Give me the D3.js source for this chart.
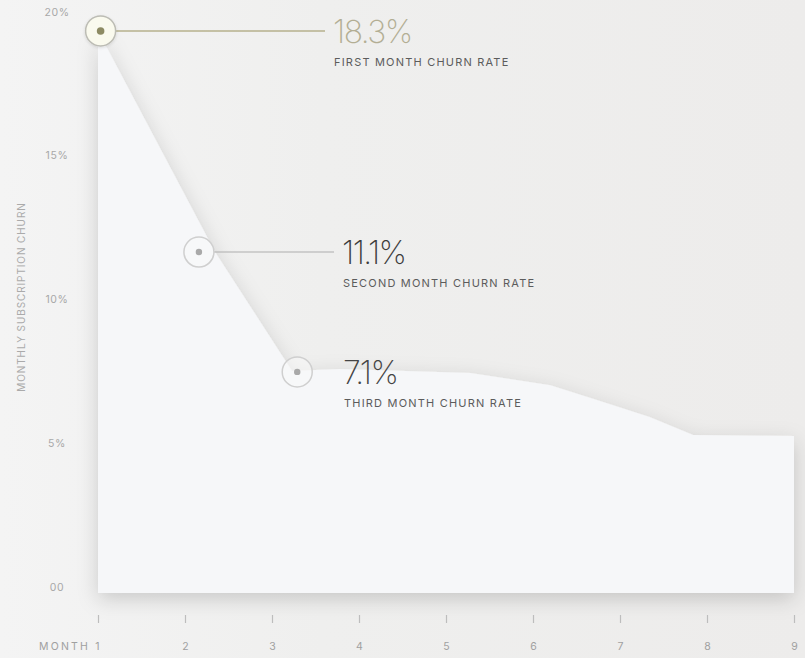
<!DOCTYPE html>
<html>
<head>
<meta charset="utf-8">
<script src="https://cdn.jsdelivr.net/npm/d3@7"></script>
<style>
  html, body { margin: 0; padding: 0; background: #f0f0ef; }
  svg { display: block; font-family: Inter, "Open Sans", sans-serif; }
</style>
</head>
<body>
<svg id="chart" width="805" height="658"></svg>
<script>
// ---- data ----
const monthTicks = [1, 2, 3, 4, 5, 6, 7, 8, 9];
const monthLabels = ["MONTH 1", "2", "3", "4", "5", "6", "7", "8", "9"];
const yTicks = [0, 5, 10, 15, 20];
const yTickLabels = ["00", "5%", "10%", "15%", "20%"];
// churn curve (month position, churn %)
const curveMonths = [1, 2.345, 3.23, 3.78, 5.28, 6.2, 6.77, 7.34, 7.84, 9];
const curveChurn  = [19.55, 11.86, 7.72, 7.79, 7.65, 7.23, 6.68, 6.12, 5.5, 5.46];
// annotated points
const markerMonths = [1.03, 2.16, 3.29];
const markerChurn  = [19.55, 11.86, 7.69];
const annValues = ["18.3%", "11.1%", "7.1%"];
const annLabels = ["FIRST MONTH CHURN RATE", "SECOND MONTH CHURN RATE", "THIRD MONTH CHURN RATE"];

const svg = d3.select("#chart");
const W = 805, H = 658;

const x = d3.scaleLinear().domain([1, 9]).range([98, 794]);
const y = d3.scaleLinear().domain([0, 20]).range([593, 18]);

const defs = svg.append("defs");
const bg = defs.append("linearGradient").attr("id", "bg").attr("x1", 0).attr("x2", 1).attr("y1", 0).attr("y2", 0);
bg.append("stop").attr("offset", "0%").attr("stop-color", "#f4f4f4");
bg.append("stop").attr("offset", "40%").attr("stop-color", "#efefee");
bg.append("stop").attr("offset", "100%").attr("stop-color", "#edeceb");

const sh = defs.append("filter").attr("id", "shadow").attr("x", "-10%").attr("y", "-10%").attr("width", "120%").attr("height", "130%");
sh.append("feDropShadow").attr("dx", 0).attr("dy", 6).attr("stdDeviation", 10)
  .attr("flood-color", "#000").attr("flood-opacity", 0.17);

const msh = defs.append("filter").attr("id", "mshadow").attr("x", "-50%").attr("y", "-50%").attr("width", "200%").attr("height", "200%");
msh.append("feDropShadow").attr("dx", 0).attr("dy", 1).attr("stdDeviation", 1.5)
  .attr("flood-color", "#000").attr("flood-opacity", 0.12);

svg.append("rect").attr("width", W).attr("height", H).attr("fill", "url(#bg)");

// area
const pts = curveMonths.map((m, i) => ({ m, v: curveChurn[i] }));
const area = d3.area()
  .x(d => x(d.m))
  .y0(y(0))
  .y1(d => y(d.v))
  .curve(d3.curveLinear);
svg.append("path").datum(pts)
  .attr("d", area)
  .attr("fill", "#f6f7f9")
  .attr("filter", "url(#shadow)");

// y axis labels
svg.append("g").selectAll("text").data(yTicks).join("text")
  .attr("x", 57)
  .attr("y", d => y(d) - 6)
  .attr("dy", "0.35em")
  .attr("text-anchor", "middle")
  .attr("font-size", 10.5)
  .attr("letter-spacing", 0.6)
  .attr("fill", "#a8a8a8")
  .text((d, i) => yTickLabels[i]);

// y axis title
svg.append("text")
  .attr("transform", "translate(25,297) rotate(-90)")
  .attr("text-anchor", "middle")
  .attr("font-size", 10)
  .attr("letter-spacing", 0.9)
  .attr("fill", "#aaaaaa")
  .text("MONTHLY SUBSCRIPTION CHURN");

// x axis
const xAxis = d3.axisBottom(x)
  .tickValues(monthTicks)
  .tickSize(8)
  .tickPadding(20)
  .tickFormat((d, i) => monthLabels[i]);
const gx = svg.append("g").attr("transform", "translate(0,615)").call(xAxis);
gx.select(".domain").remove();
gx.selectAll(".tick line").attr("stroke", "#bdbdbd").attr("stroke-width", 1.2);
gx.selectAll(".tick text")
  .attr("fill", "#a0a0a0")
  .attr("font-size", 10.5)
  .attr("font-family", "Inter, 'Open Sans', sans-serif");
gx.selectAll(".tick text").filter((d, i) => i === 0)
  .attr("text-anchor", "end").attr("dx", "0.3em").attr("letter-spacing", 2.2);

// annotations
const textX = [333, 342, 343];
const lineColors = ["#b6b08c", "#adadad", null];
const valueColors = ["#b3ae94", "#3c3c3c", "#444444"];
const ann = markerMonths.map((m, i) => ({ m, v: markerChurn[i], i }));

const ga = svg.append("g");
ann.forEach(d => {
  const cx = x(d.m), cy = y(d.v);
  if (lineColors[d.i]) {
    ga.append("line")
      .attr("x1", cx + 15).attr("x2", textX[d.i] - 8)
      .attr("y1", cy).attr("y2", cy)
      .attr("stroke", lineColors[d.i]).attr("stroke-width", d.i === 0 ? 1.4 : 1.1);
  }
  ga.append("circle")
    .attr("cx", cx).attr("cy", cy).attr("r", 15)
    .attr("fill", d.i === 0 ? "#fafaee" : "rgba(248,248,248,0.6)")
    .attr("stroke", d.i === 0 ? "#bcbcb4" : "#cfcfcf")
    .attr("stroke-width", 1.5)
    .attr("filter", d.i === 0 ? "url(#mshadow)" : null);
  ga.append("circle")
    .attr("cx", cx).attr("cy", cy).attr("r", d.i === 0 ? 3.8 : 3.2)
    .attr("fill", d.i === 0 ? "#8d8b63" : "#a9a9a9");
  ga.append("text")
    .attr("x", textX[d.i]).attr("y", cy + 12)
    .attr("font-size", 32)
    .attr("font-weight", 200)
    .attr("letter-spacing", -1.5)
    .attr("fill", valueColors[d.i])
    .text(annValues[d.i]);
  ga.append("text")
    .attr("x", textX[d.i] + 1).attr("y", cy + 35)
    .attr("font-size", 11)
    .attr("letter-spacing", 1.2)
    .attr("fill", "#5c5c5c")
    .text(annLabels[d.i]);
});
</script>
</body>
</html>
